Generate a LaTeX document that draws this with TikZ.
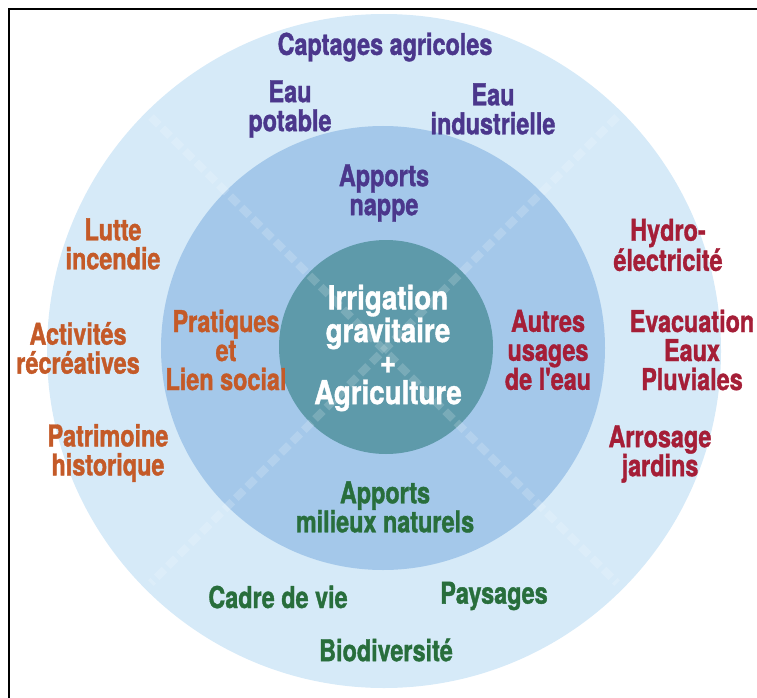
\documentclass[tikz,border=0pt]{standalone}
\usepackage{fontspec}
\newfontfamily\lblfont[FakeStretch=0.78, FakeBold=1.2]{TeX Gyre Heros}
\newfontfamily\corefont[FakeStretch=0.84, FakeBold=1.2]{TeX Gyre Heros}
\usetikzlibrary{positioning}
\definecolor{ringout}{RGB}{214,234,248}
\definecolor{ringmid}{RGB}{164,200,234}
\definecolor{ringin}{RGB}{94,154,170}
\definecolor{txtpurple}{RGB}{75,55,140}
\definecolor{txtorange}{RGB}{196,90,40}
\definecolor{txtred}{RGB}{165,30,55}
\definecolor{txtgreen}{RGB}{40,110,60}

\begin{document}
\begin{tikzpicture}[
    x=1pt, y=-1pt,
    lbl/.style={align=center, inner sep=0pt, font=\lblfont\bfseries\fontsize{30}{29}\selectfont},
    purp/.style={lbl, text=txtpurple},
    oran/.style={lbl, text=txtorange},
    redd/.style={lbl, text=txtred},
    gren/.style={lbl, text=txtgreen},
    core/.style={align=center, inner sep=0pt, text=white, font=\corefont\bfseries\fontsize{33}{31}\selectfont},
    xdash/.style={white, opacity=0.17, line width=8pt, dash pattern=on 11pt off 5pt},
]
\useasboundingbox (0,0) rectangle (757,698);

% Rings
\fill[ringout] (384,351) circle (337);
\fill[ringmid] (383,348) circle (222);
\fill[ringin]  (386,347) circle (107);

% Faint diagonal cross
\coordinate (ul) at (151,117);
\coordinate (lr) at (617,583);
\coordinate (ur) at (617,117);
\coordinate (ll) at (151,583);
\draw[xdash] (ul) -- (lr);
\draw[xdash] (ur) -- (ll);

% Frame (top and left edges)
\draw[line width=2.5pt] (9,698) -- (9,9) -- (757,9);

% Outer ring, top
\node[purp] (captages) at (385,47)  {Captages agricoles};
\node[purp] (eaupot)   at (290,109) {Eau\\potable};
\node[purp] (eauind)   at (493,109) {Eau\\industrielle};

% Middle ring
\node[purp] (nappe)    at (384,193) {Apports\\nappe};
\node[oran] (pratiq)   at (226,350) {Pratiques\\et\\Lien social};
\node[redd] (autres)   at (548,350) {Autres\\usages\\de l'eau};
\node[gren] (milieux)  at (385,507) {Apports\\milieux naturels};

% Core
\node[core] (centre)   at (388,348) {Irrigation\\gravitaire\\+\\Agriculture};

% Outer ring, left
\node[oran] (lutte)    at (113,244) {Lutte\\incendie};
\node[oran] (activ)    at (78,348)  {Activités\\récréatives};
\node[oran] (patrim)   at (108,453) {Patrimoine\\historique};

% Outer ring, right
\node[redd] (hydro)    at (668,245) {Hydro-\\électricité};
\node[redd] (evac)     at (692,350) {Evacuation\\Eaux\\Pluviales};
\node[redd] (arros)    at (660,454) {Arrosage\\jardins};

% Outer ring, bottom
\node[gren] (cadre)    at (278,597) {Cadre de vie};
\node[gren] (paysag)   at (494,596) {Paysages};
\node[gren] (biodiv)   at (386,650) {Biodiversité};
\end{tikzpicture}
\end{document}
